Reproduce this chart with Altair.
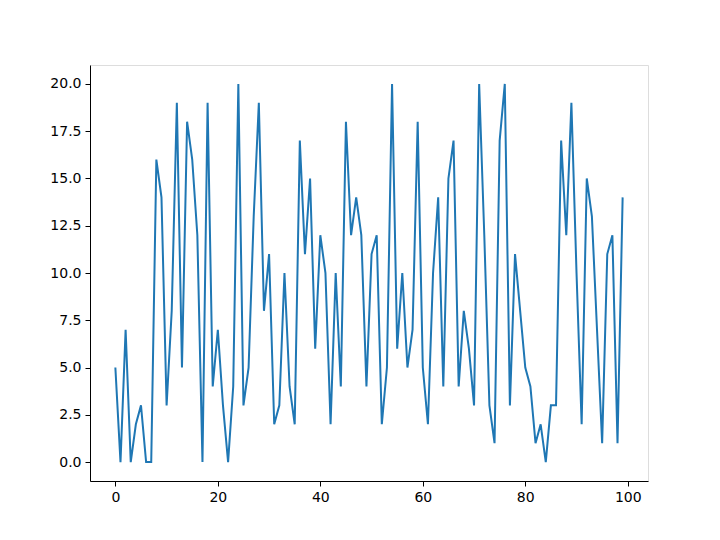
import altair as alt
import pandas as pd

xs = list(range(100))
values = [
    5, 0, 7, 0, 2, 3, 0, 0, 16, 14,
    3, 8, 19, 5, 18, 16, 12, 0, 19, 4,
    7, 3, 0, 4, 20, 3, 5, 13, 19, 8,
    11, 2, 3, 10, 4, 2, 17, 11, 15, 6,
    12, 10, 2, 10, 4, 18, 12, 14, 12, 4,
    11, 12, 2, 5, 20, 6, 10, 5, 7, 18,
    5, 2, 10, 14, 4, 15, 17, 4, 8, 6,
    3, 20, 12, 3, 1, 17, 20, 3, 11, 8,
    5, 4, 1, 2, 0, 3, 3, 17, 12, 19,
    10, 2, 15, 13, 7, 1, 11, 12, 1, 14,
]
x_ticks = [0, 20, 40, 60, 80, 100]
y_ticks = [0, 2.5, 5, 7.5, 10, 12.5, 15, 17.5, 20]

df = pd.DataFrame({"x": xs, "y": values})

axis_common = dict(
    grid=False,
    domain=True,
    domainColor="black",
    domainWidth=1,
    tickColor="black",
    tickSize=5,
    tickWidth=1,
    labelFont="DejaVu Sans",
    labelFontSize=14,
    labelColor="black",
    labelPadding=4,
    title=None,
)

chart = alt.Chart(df).mark_line(color="#1f77b4", strokeWidth=2).encode(
    x=alt.X(
        "x:Q",
        scale=alt.Scale(domain=[-4.95, 103.95], nice=False, zero=False),
        axis=alt.Axis(values=x_ticks, format="d", **axis_common),
    ),
    y=alt.Y(
        "y:Q",
        scale=alt.Scale(domain=[-1, 21], nice=False, zero=False),
        axis=alt.Axis(values=y_ticks, format=".1f", **axis_common),
    ),
).properties(
    width=558,
    height=416,
    autosize=alt.AutoSizeParams(type="none"),
    padding={"left": 82, "top": 57, "right": 64, "bottom": 51},
).configure_view(
    stroke="black",
    strokeWidth=1,
).configure(
    background="white",
)

chart.save("out.html", embed_options={"renderer": "svg", "actions": False})
